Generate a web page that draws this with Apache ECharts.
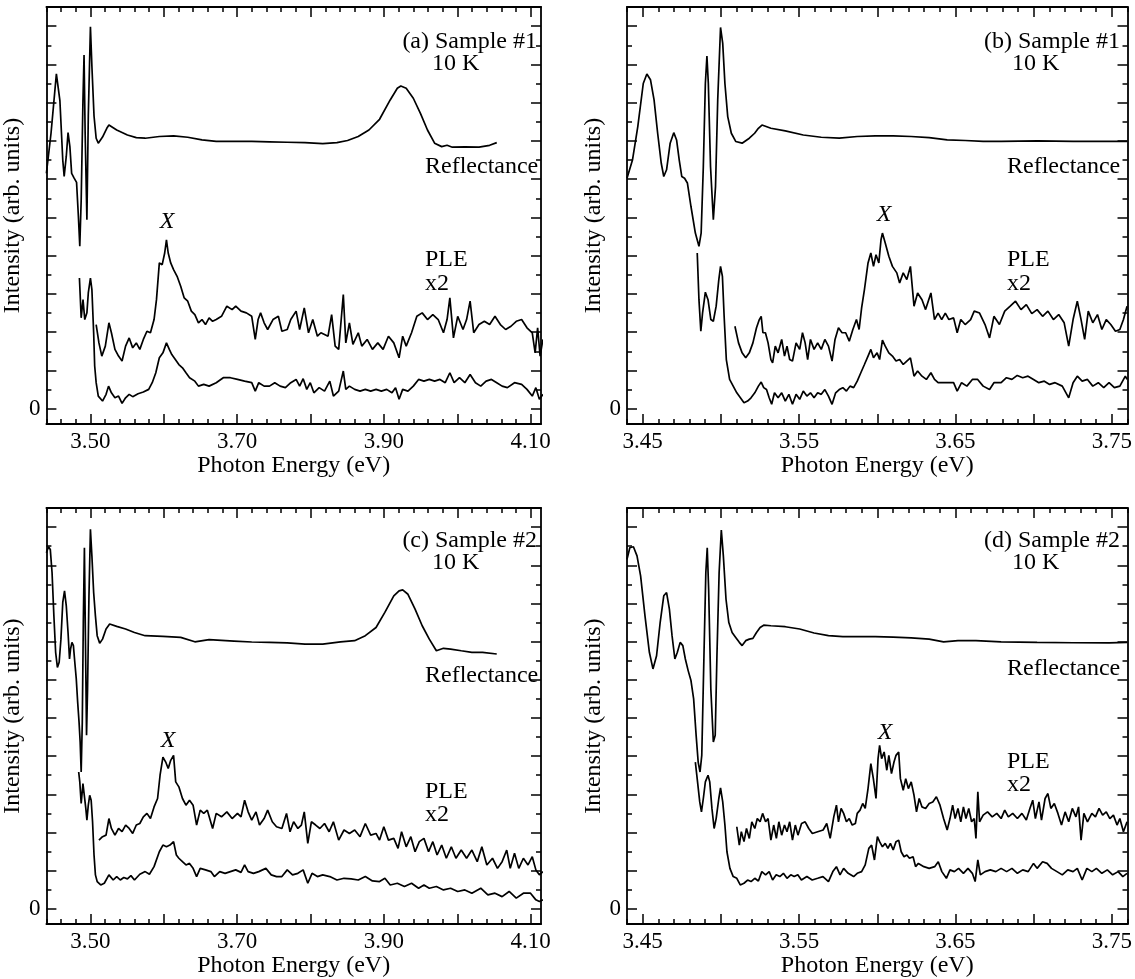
<!DOCTYPE html>
<html>
<head>
<meta charset="utf-8">
<script src="https://cdn.jsdelivr.net/npm/echarts@6/dist/echarts.min.js"></script>
<style>
  html, body { margin: 0; padding: 0; background: #fff; }
  #main { width: 1135px; height: 979px; }
</style>
</head>
<body>
<div id="main"></div>
<script>
// ---- tick values ----
var wideMajor = [3.5, 3.6, 3.7, 3.8, 3.9, 4.0, 4.1];
var wideMinor = [3.44, 3.46, 3.48, 3.52, 3.54, 3.56, 3.58, 3.62, 3.64, 3.66, 3.68, 3.72, 3.74, 3.76, 3.78,
                 3.82, 3.84, 3.86, 3.88, 3.92, 3.94, 3.96, 3.98, 4.02, 4.04, 4.06, 4.08];
var wideLabels = [3.5, 3.7, 3.9, 4.1];
var narrowMajor = [3.45, 3.5, 3.55, 3.6, 3.65, 3.7, 3.75];
var narrowMinor = [3.44, 3.46, 3.47, 3.48, 3.49, 3.51, 3.52, 3.53, 3.54, 3.56, 3.57, 3.58, 3.59, 3.61, 3.62,
                   3.63, 3.64, 3.66, 3.67, 3.68, 3.69, 3.71, 3.72, 3.73, 3.74, 3.76];
var narrowLabels = [3.45, 3.55, 3.65, 3.75];
var yMajor = [0, 2, 4, 6, 8, 10, 12, 14, 16, 18, 20];
var yMinor = [1, 3, 5, 7, 9, 11, 13, 15, 17, 19];
var yLabels = [0];

// ---- (a) sample #1, wide range ----
var aRefl = [[3.440,12.31],[3.4463,14.4],[3.4536,17.5],[3.4584,16.1],[3.4623,13.0],[3.4642,12.14],[3.4671,13.2],
  [3.4695,14.43],[3.472,13.7],[3.4744,12.3],[3.4778,12.05],[3.4811,11.83],[3.4836,10.05],[3.4855,8.49],[3.4874,10.9],
  [3.4898,16.1],[3.4913,18.49],[3.4928,14.4],[3.4952,9.88],[3.4971,15.3],[3.5,19.97],[3.502,17.9],[3.5049,15.3],
  [3.5078,14.14],[3.5107,13.88],[3.5165,14.2],[3.5223,14.66],[3.5252,14.83],[3.5358,14.57],[3.5504,14.31],[3.5625,14.17],
  [3.5746,14.14],[3.5939,14.23],[3.6133,14.26],[3.6326,14.19],[3.652,14.05],[3.6714,13.98],[3.6955,13.97],[3.7198,13.97],
  [3.744,13.95],[3.7682,13.93],[3.7924,13.91],[3.8166,13.86],[3.8359,13.91],[3.8504,14.02],[3.8649,14.23],[3.8795,14.57],
  [3.894,15.13],[3.9085,16.14],[3.9182,16.75],[3.923,16.87],[3.9303,16.75],[3.94,16.23],[3.9497,15.44],[3.9593,14.57],
  [3.969,13.88],[3.9787,13.7],[3.986,13.77],[3.9932,13.67],[4.0102,13.69],[4.0295,13.67],[4.044,13.77],[4.0537,13.91]];
var aPle1 = [[3.485,6.83],[3.4874,4.75],[3.4899,5.7],[3.4923,4.66],[3.4952,5.01],[3.4971,6.05],[3.5,6.83],[3.502,6.23],
  [3.5044,3.97],[3.5058,2.23],[3.5078,1.36],[3.5107,0.66],[3.5165,0.4],[3.5213,0.75],[3.5247,1.18],[3.5286,0.83],
  [3.5334,0.57],[3.5383,0.66],[3.5431,0.28],[3.5479,0.57],[3.5528,0.75],[3.5576,0.63],[3.5649,0.78],[3.5721,0.87],
  [3.5794,1.01],[3.5842,1.36],[3.5891,1.88],[3.5939,2.66],[3.5988,2.92],[3.6012,3.18],[3.6036,3.44],[3.6075,3.1],
  [3.6109,2.83],[3.6157,2.57],[3.6205,2.31],[3.6254,2.14],[3.6302,1.88],[3.6351,1.62],[3.6423,1.44],[3.6472,1.18],
  [3.6544,1.27],[3.6617,1.18],[3.6714,1.36],[3.681,1.62],[3.6907,1.62],[3.7004,1.53],[3.7101,1.44],[3.7198,1.36],
  [3.7246,0.92],[3.7294,1.36],[3.7367,1.18],[3.744,1.18],[3.7512,1.36],[3.7585,1.18],[3.7657,1.1],[3.773,1.36],
  [3.7803,1.53],[3.7851,1.18],[3.7899,1.57],[3.7948,1.01],[3.7996,1.36],[3.8045,0.83],[3.8117,1.1],[3.819,0.92],
  [3.8262,1.44],[3.8311,0.66],[3.8383,0.92],[3.8446,1.97],[3.848,1.01],[3.8529,1.18],[3.8601,1.01],[3.8674,0.92],
  [3.8746,1.01],[3.8819,0.92],[3.8892,1.01],[3.8964,0.92],[3.9037,1.01],[3.9109,0.83],[3.9158,1.1],[3.9206,0.49],
  [3.9255,1.01],[3.9327,0.92],[3.94,1.18],[3.9472,1.53],[3.9545,1.44],[3.9618,1.53],[3.969,1.44],[3.9763,1.53],
  [3.9835,1.36],[3.9898,1.88],[3.9956,1.36],[4.0029,1.62],[4.0102,1.36],[4.0174,1.79],[4.0247,1.36],[4.0319,1.18],
  [4.0392,1.44],[4.0465,1.53],[4.0537,1.36],[4.061,1.18],[4.0682,1.1],[4.0779,1.36],[4.0876,1.27],[4.0949,1.01],
  [4.1021,0.66],[4.107,1.1],[4.1118,0.49],[4.1166,0.75]];
var aPle2 = [[3.5078,4.4],[3.5116,3.44],[3.5155,2.75],[3.5203,3.27],[3.5252,4.49],[3.5286,3.97],[3.5334,3.1],[3.5383,2.75],
  [3.5431,2.49],[3.5479,3.27],[3.5528,3.7],[3.5576,3.18],[3.5625,3.44],[3.5673,3.1],[3.5721,3.62],[3.577,4.05],
  [3.5818,3.97],[3.5867,4.66],[3.59,5.7],[3.5939,7.62],[3.5978,7.53],[3.6012,8.14],[3.6036,8.83],[3.606,8.14],
  [3.6094,7.62],[3.6133,7.27],[3.6181,6.92],[3.623,6.4],[3.6278,5.79],[3.6326,5.62],[3.6375,5.1],[3.6423,4.92],
  [3.6472,4.49],[3.652,4.66],[3.6568,4.4],[3.6617,4.75],[3.6665,4.57],[3.6714,4.66],[3.6786,4.83],[3.6859,5.36],
  [3.6931,5.18],[3.698,5.36],[3.7052,5.1],[3.7125,5.01],[3.7198,4.83],[3.7246,3.62],[3.7285,4.66],[3.7319,5.01],
  [3.7367,4.49],[3.7415,4.14],[3.7488,4.66],[3.7561,4.83],[3.7609,4.05],[3.7682,4.14],[3.773,4.66],[3.7803,5.1],
  [3.7851,4.14],[3.7914,5.27],[3.7972,3.97],[3.803,4.66],[3.8093,3.79],[3.8141,3.97],[3.819,3.88],[3.8238,3.79],
  [3.8287,4.92],[3.8335,3.27],[3.8383,3.1],[3.8446,5.97],[3.848,3.44],[3.8529,4.49],[3.8577,3.36],[3.865,3.97],
  [3.8698,3.27],[3.8771,3.62],[3.8843,3.1],[3.8916,3.44],[3.8988,3.1],[3.9061,3.79],[3.9134,3.44],[3.9206,2.66],
  [3.9255,3.79],[3.9303,3.27],[3.9376,3.97],[3.9448,4.83],[3.9521,5.01],[3.9593,4.66],[3.9666,4.92],[3.9739,4.66],
  [3.9811,3.97],[3.986,4.66],[3.9898,5.79],[3.9947,3.7],[4.0005,4.83],[4.0077,4.14],[4.0126,4.66],[4.0174,5.62],
  [4.0223,3.97],[4.0295,4.4],[4.0368,4.57],[4.044,4.4],[4.0513,4.83],[4.0586,4.4],[4.0658,4.14],[4.0731,4.31],
  [4.0803,4.57],[4.0876,4.66],[4.0949,4.23],[4.1021,3.97],[4.106,2.92],[4.1094,4.23],[4.1128,2.75],[4.1166,3.62]];

// ---- (b) sample #1, narrow range ----
var bRefl = [[3.44,12.05],[3.4435,13.0],[3.4469,14.75],[3.4504,17.0],[3.4527,17.5],[3.455,17.2],[3.4573,16.14],
  [3.4596,14.4],[3.4619,12.83],[3.4635,12.14],[3.4653,12.49],[3.4676,13.88],[3.4699,14.43],[3.4717,14.05],[3.4734,13.0],
  [3.475,12.14],[3.4768,12.05],[3.4786,11.8],[3.4809,10.57],[3.4837,9.18],[3.486,8.49],[3.4874,9.18],[3.4888,12.66],
  [3.4901,17.0],[3.4911,18.43],[3.492,17.0],[3.4934,12.66],[3.4952,9.88],[3.4966,11.62],[3.498,16.14],[3.4998,19.93],
  [3.5012,19.1],[3.5026,17.0],[3.5044,15.27],[3.5067,14.4],[3.5095,13.97],[3.5136,13.88],[3.5182,14.14],[3.5216,14.4],
  [3.524,14.66],[3.5263,14.83],[3.532,14.66],[3.5412,14.52],[3.5527,14.31],[3.5642,14.19],[3.5757,14.14],[3.5872,14.23],
  [3.5987,14.26],[3.6102,14.26],[3.6217,14.23],[3.6332,14.17],[3.6447,14.05],[3.6562,14.02],[3.6677,13.98],[3.6792,13.98],
  [3.7022,14.0],[3.7252,13.98],[3.7482,13.97],[3.7597,13.98]];
var bPle1 = [[3.4849,8.14],[3.486,5.7],[3.4872,4.05],[3.4883,5.0],[3.4901,6.09],[3.4918,5.7],[3.4936,4.66],[3.4952,4.57],
  [3.497,5.36],[3.4987,6.75],[3.4998,7.44],[3.501,6.92],[3.5021,4.83],[3.5035,2.57],[3.5056,1.53],[3.5079,1.18],
  [3.5102,0.83],[3.5125,0.57],[3.5148,0.31],[3.5171,0.4],[3.5193,0.57],[3.5217,0.83],[3.524,1.18],[3.5258,1.39],
  [3.5274,1.1],[3.5292,1.0],[3.5309,0.57],[3.5325,0.23],[3.5343,0.83],[3.5366,0.57],[3.5389,0.83],[3.5412,0.4],
  [3.5435,0.75],[3.5458,0.23],[3.5481,0.75],[3.5504,0.49],[3.5527,0.92],[3.555,0.66],[3.5573,0.83],[3.5596,0.57],
  [3.5619,0.83],[3.5642,0.75],[3.5665,1.0],[3.5688,0.66],[3.5711,0.23],[3.5734,0.83],[3.5757,1.0],[3.578,1.1],
  [3.5803,0.92],[3.5826,1.18],[3.5849,1.1],[3.5872,1.44],[3.5895,1.88],[3.5918,2.31],[3.5941,2.75],[3.5959,3.1],
  [3.5976,2.66],[3.5999,2.92],[3.6015,2.57],[3.6033,3.58],[3.6051,3.27],[3.6074,2.92],[3.6097,2.75],[3.612,2.49],
  [3.6143,2.57],[3.6166,2.31],[3.6189,2.49],[3.6212,2.66],[3.6235,1.7],[3.6258,1.97],[3.6286,1.7],[3.6314,1.53],
  [3.6343,1.88],[3.6366,1.53],[3.6389,1.36],[3.6424,1.36],[3.6458,1.36],[3.6488,1.36],[3.6511,0.92],[3.6539,1.36],
  [3.6573,1.18],[3.6608,1.53],[3.6642,1.53],[3.6677,1.18],[3.6718,1.0],[3.6746,1.36],[3.6792,1.36],[3.6826,1.62],
  [3.6861,1.53],[3.6895,1.74],[3.693,1.62],[3.6964,1.7],[3.6999,1.53],[3.7033,1.36],[3.7068,1.44],[3.7102,1.27],
  [3.7137,1.36],[3.7183,1.18],[3.7224,0.57],[3.7252,1.36],[3.7279,1.7],[3.731,1.44],[3.7344,1.53],[3.7378,1.18],
  [3.7413,1.36],[3.7448,1.1],[3.7482,1.36],[3.7516,1.1],[3.7551,1.18],[3.7586,1.7],[3.7597,1.53]];
var bPle2 = [[3.509,4.31],[3.5113,3.44],[3.5136,2.92],[3.5159,2.66],[3.5182,2.92],[3.5205,3.44],[3.5228,4.23],[3.5246,4.66],
  [3.5258,4.83],[3.5269,3.97],[3.5285,3.97],[3.5302,3.44],[3.532,2.57],[3.5331,2.4],[3.5348,3.27],[3.5366,2.92],
  [3.5389,3.62],[3.5407,2.75],[3.5423,3.27],[3.544,2.57],[3.5458,2.49],[3.5481,3.44],[3.5504,3.1],[3.5522,3.97],
  [3.5539,3.44],[3.5555,2.57],[3.5573,3.62],[3.5596,3.1],[3.5619,3.44],[3.5642,3.1],[3.5665,3.62],[3.5688,3.27],
  [3.5711,2.49],[3.573,3.62],[3.5752,4.23],[3.5775,3.97],[3.5798,3.97],[3.5821,3.53],[3.5844,4.14],[3.5867,4.66],
  [3.5884,4.14],[3.59,5.27],[3.5918,6.23],[3.5941,7.62],[3.5959,8.14],[3.5976,7.44],[3.5992,8.05],[3.601,7.62],
  [3.6024,8.83],[3.6033,9.18],[3.6051,8.66],[3.6074,7.97],[3.6097,7.44],[3.6125,7.1],[3.6143,6.57],[3.6166,7.1],
  [3.6189,6.75],[3.6212,7.44],[3.6235,5.36],[3.6258,6.05],[3.6286,5.7],[3.6309,5.18],[3.6343,6.05],[3.6366,4.66],
  [3.6389,5.0],[3.6412,4.66],[3.6435,5.0],[3.6458,4.66],[3.6488,4.75],[3.6511,3.97],[3.6534,4.66],[3.6562,4.4],
  [3.6597,4.66],[3.662,5.1],[3.6654,5.0],[3.6689,4.4],[3.6718,3.7],[3.6746,4.83],[3.6781,4.4],[3.6815,5.1],
  [3.685,5.36],[3.6884,5.62],[3.6919,5.18],[3.6953,5.44],[3.6988,4.97],[3.7022,5.18],[3.7057,4.83],[3.7091,5.1],
  [3.7126,4.66],[3.716,4.92],[3.7195,4.49],[3.7224,3.27],[3.7252,4.66],[3.7279,5.62],[3.7303,4.66],[3.7326,3.62],
  [3.7349,5.1],[3.7378,4.49],[3.7408,4.92],[3.7436,4.14],[3.7464,4.66],[3.7493,4.4],[3.7523,4.05],[3.7551,4.14],
  [3.7574,4.66],[3.7597,5.36]];

// ---- (c) sample #2, wide range ----
var cRefl = [[3.44,18.66],[3.4429,18.97],[3.4453,18.83],[3.4477,17.62],[3.4502,15.35],[3.4526,13.44],[3.455,12.65],
  [3.4574,12.92],[3.4598,14.13],[3.4623,16.05],[3.4647,16.66],[3.4671,15.87],[3.4695,14.48],[3.4715,13.09],[3.4729,13.61],
  [3.4748,13.96],[3.4768,13.79],[3.4787,12.92],[3.4807,12.05],[3.4826,10.83],[3.4845,9.78],[3.486,8.74],[3.4874,7.17],
  [3.4889,9.78],[3.4903,15.0],[3.4918,18.92],[3.4932,14.13],[3.4947,9.09],[3.4961,11.52],[3.498,16.4],[3.5,19.88],
  [3.502,18.49],[3.5044,16.57],[3.5068,15.35],[3.5092,14.31],[3.5126,13.92],[3.5165,14.13],[3.5213,14.66],[3.5262,14.92],
  [3.5358,14.8],[3.5479,14.66],[3.56,14.48],[3.5745,14.31],[3.5987,14.27],[3.623,14.22],[3.6423,13.99],[3.6617,14.1],
  [3.6956,14.03],[3.7198,13.98],[3.744,13.96],[3.7681,13.93],[3.7924,13.87],[3.8166,13.87],[3.8408,13.99],[3.86,14.05],
  [3.8746,14.31],[3.8892,14.74],[3.9012,15.53],[3.9134,16.4],[3.9206,16.66],[3.9255,16.71],[3.9327,16.48],[3.9424,15.7],
  [3.9521,14.83],[3.9618,14.13],[3.9714,13.52],[3.9811,13.65],[3.9908,13.61],[4.0053,13.52],[4.0198,13.44],[4.0344,13.44],
  [4.0537,13.35]];
var cPle1 = [[3.484,7.17],[3.4855,6.65],[3.4874,5.52],[3.4898,6.56],[3.4923,6.49],[3.4937,5.26],[3.4952,4.65],[3.4971,5.43],
  [3.499,5.95],[3.501,5.69],[3.5029,4.56],[3.5049,2.82],[3.5068,1.78],[3.5092,1.43],[3.514,1.25],[3.5189,1.34],
  [3.5252,1.78],[3.531,1.51],[3.5358,1.69],[3.5407,1.51],[3.5455,1.64],[3.5504,1.57],[3.5552,1.74],[3.56,1.51],
  [3.5673,1.81],[3.5746,1.95],[3.5804,1.81],[3.5867,2.21],[3.5939,2.99],[3.5988,3.34],[3.6036,3.25],[3.6084,3.34],
  [3.6133,3.52],[3.6171,2.82],[3.6205,2.65],[3.6254,2.47],[3.6302,2.3],[3.635,2.38],[3.6399,2.12],[3.6447,1.69],
  [3.6496,2.12],[3.6568,2.04],[3.6641,1.95],[3.6689,1.69],[3.6762,1.95],[3.6835,1.86],[3.6907,1.95],[3.698,2.04],
  [3.7052,1.91],[3.7101,2.3],[3.7149,1.95],[3.7222,1.86],[3.7294,1.95],[3.7391,2.12],[3.7464,1.78],[3.7536,1.69],
  [3.7609,1.69],[3.7682,2.04],[3.7754,1.78],[3.7827,1.86],[3.7899,2.04],[3.7962,1.34],[3.802,1.86],[3.8093,1.69],
  [3.8166,1.78],[3.8262,1.69],[3.8359,1.51],[3.8456,1.6],[3.8553,1.57],[3.865,1.51],[3.8746,1.69],[3.8843,1.46],
  [3.894,1.43],[3.9013,1.6],[3.9085,1.25],[3.9182,1.34],[3.9279,1.17],[3.9376,1.34],[3.9472,1.08],[3.9545,1.25],
  [3.9618,1.08],[3.9714,1.17],[3.9811,0.99],[3.9908,1.08],[4.0005,0.91],[4.0102,0.99],[4.0198,0.82],[4.0319,1.08],
  [4.0416,0.73],[4.0513,0.82],[4.061,0.64],[4.0706,0.91],[4.0803,0.56],[4.09,0.82],[4.0997,0.82],[4.107,0.47],
  [4.1118,0.38],[4.1166,0.47]];
var cPle2 = [[3.5116,3.6],[3.5165,3.78],[3.5213,3.86],[3.5252,4.73],[3.5286,4.21],[3.5334,3.86],[3.5383,4.21],[3.5431,4.04],
  [3.548,4.39],[3.5528,4.21],[3.5576,3.95],[3.5625,4.39],[3.5673,4.47],[3.5721,4.82],[3.577,5.0],[3.5818,4.73],
  [3.5867,5.34],[3.5915,5.78],[3.5949,7.0],[3.5988,7.95],[3.6026,7.69],[3.606,7.35],[3.6094,7.78],[3.6133,8.04],
  [3.6162,6.65],[3.6205,6.39],[3.6254,5.78],[3.6302,5.43],[3.635,5.69],[3.6399,5.43],[3.6447,4.39],[3.6496,5.17],
  [3.6544,5.0],[3.6593,5.17],[3.6665,4.21],[3.6714,5.0],[3.6786,4.82],[3.6859,5.08],[3.6931,4.73],[3.7004,5.0],
  [3.7052,4.82],[3.7101,5.69],[3.7149,5.08],[3.7198,4.65],[3.7256,5.08],[3.7304,4.39],[3.7367,4.73],[3.7415,5.17],
  [3.7478,4.56],[3.7536,4.3],[3.7609,4.21],[3.7672,5.0],[3.772,4.04],[3.7769,4.56],[3.7827,4.21],[3.7875,4.39],
  [3.7914,5.08],[3.7962,3.43],[3.8011,4.56],[3.8069,4.39],[3.8127,4.21],[3.819,4.47],[3.8253,4.04],[3.8311,4.56],
  [3.8383,3.6],[3.8456,4.13],[3.8529,3.95],[3.8601,4.13],[3.8674,3.78],[3.8746,4.47],[3.8819,3.86],[3.8892,3.95],
  [3.894,3.6],[3.8998,4.3],[3.9061,3.6],[3.9134,3.69],[3.9192,3.17],[3.924,4.04],[3.9303,3.25],[3.9366,3.78],
  [3.9424,2.99],[3.9482,3.52],[3.9545,3.69],[3.9608,2.99],[3.9666,3.52],[3.9724,2.82],[3.9787,3.34],[3.985,2.65],
  [3.9918,3.25],[3.9981,2.65],[4.0053,3.08],[4.0126,2.65],[4.0198,3.08],[4.0271,2.47],[4.0334,3.25],[4.0402,2.3],
  [4.0479,2.65],[4.0547,2.12],[4.061,2.47],[4.0673,3.08],[4.0721,2.12],[4.0779,2.91],[4.0837,2.12],[4.09,2.65],
  [4.0963,2.3],[4.1021,2.73],[4.107,2.04],[4.1118,1.78],[4.1166,1.95]];

// ---- (d) sample #2, narrow range ----
var dRefl = [[3.44,18.31],[3.4418,18.92],[3.4441,18.97],[3.4464,18.49],[3.4487,17.44],[3.4515,15.35],[3.4543,13.44],
  [3.4566,12.57],[3.4589,13.26],[3.4612,15.0],[3.4635,16.4],[3.4653,16.57],[3.4671,15.7],[3.4688,14.31],[3.4706,13.09],
  [3.4722,13.44],[3.474,13.96],[3.4757,13.79],[3.4773,13.09],[3.4791,12.48],[3.4809,11.96],[3.4826,11.0],[3.4842,9.09],
  [3.4855,7.69],[3.4867,7.17],[3.4878,8.04],[3.4892,13.26],[3.4904,17.62],[3.4913,18.92],[3.4922,16.74],[3.4936,11.52],
  [3.4952,8.74],[3.4964,9.09],[3.4975,13.26],[3.4989,17.62],[3.5003,19.84],[3.5016,18.49],[3.5033,16.22],[3.5051,15.0],
  [3.5072,14.48],[3.5095,14.22],[3.5118,13.96],[3.5136,13.79],[3.5159,14.05],[3.5182,14.13],[3.5205,14.17],[3.5228,14.48],
  [3.5251,14.74],[3.5274,14.86],[3.532,14.83],[3.5412,14.78],[3.5504,14.66],[3.5596,14.45],[3.5688,14.31],[3.578,14.26],
  [3.5872,14.26],[3.5987,14.26],[3.6102,14.24],[3.6217,14.2],[3.6332,14.13],[3.6424,13.99],[3.6516,14.05],[3.6631,14.05],
  [3.6792,13.99],[3.7022,13.96],[3.7252,13.94],[3.7482,13.93],[3.7597,13.96]];
var dPle1 = [[3.4837,7.69],[3.4851,6.65],[3.4865,5.6],[3.4876,5.08],[3.4888,5.78],[3.4901,6.65],[3.4918,7.0],[3.4929,6.65],
  [3.4943,5.26],[3.4957,4.21],[3.497,4.73],[3.4987,5.78],[3.4998,6.34],[3.5012,5.6],[3.5026,4.39],[3.5039,2.99],
  [3.5058,2.12],[3.5079,1.69],[3.5102,1.6],[3.5124,1.25],[3.5148,1.34],[3.5171,1.51],[3.5193,1.43],[3.5217,1.6],
  [3.524,1.46],[3.5262,1.95],[3.5286,1.78],[3.5309,1.95],[3.5331,1.51],[3.5354,1.78],[3.5377,1.69],[3.54,1.86],
  [3.5423,1.6],[3.5447,1.78],[3.5469,1.69],[3.5492,1.78],[3.5515,1.51],[3.555,1.69],[3.5584,1.51],[3.5619,1.6],
  [3.5653,1.69],[3.5688,1.43],[3.5716,1.95],[3.5739,2.21],[3.5762,1.78],[3.5785,2.12],[3.5814,1.86],[3.5849,1.69],
  [3.5872,1.86],[3.59,1.95],[3.5923,2.3],[3.5946,3.17],[3.5964,3.34],[3.5982,2.56],[3.6001,3.78],[3.6015,3.52],
  [3.6033,3.25],[3.6051,3.43],[3.6068,3.17],[3.6084,3.43],[3.6102,3.08],[3.612,3.52],[3.6137,3.6],[3.6153,2.99],
  [3.6171,2.73],[3.6189,2.82],[3.6206,2.65],[3.6229,2.73],[3.6245,2.21],[3.6263,2.38],[3.6298,2.21],[3.6332,2.12],
  [3.6367,2.21],[3.639,2.47],[3.6413,1.95],[3.6442,1.6],[3.6465,2.04],[3.6493,1.95],[3.652,2.12],[3.6551,1.86],
  [3.658,2.12],[3.6608,1.86],[3.6626,1.43],[3.6643,2.56],[3.6659,1.78],[3.6689,1.95],[3.6723,2.04],[3.6758,1.95],
  [3.6792,2.12],[3.6827,1.95],[3.6861,2.12],[3.6896,1.86],[3.693,2.04],[3.6965,1.95],[3.6999,2.38],[3.7022,2.12],
  [3.7057,2.47],[3.7086,2.38],[3.7114,2.12],[3.7149,1.95],[3.7183,1.78],[3.7218,2.04],[3.7252,1.95],[3.7279,2.12],
  [3.731,1.51],[3.734,2.12],[3.7372,1.95],[3.7401,2.12],[3.7436,1.86],[3.7471,2.04],[3.7505,1.78],[3.754,1.95],
  [3.757,1.69],[3.7597,1.86]];
var dPle2 = [[3.5102,4.3],[3.5118,3.34],[3.5131,4.04],[3.5148,3.52],[3.5164,4.21],[3.5182,3.69],[3.5198,4.56],[3.5217,4.21],
  [3.5233,4.73],[3.5251,4.56],[3.5267,5.0],[3.5286,4.56],[3.5302,4.73],[3.532,3.6],[3.5338,4.39],[3.5355,3.69],
  [3.5371,4.56],[3.5389,3.86],[3.5407,4.39],[3.5423,4.04],[3.544,4.56],[3.5458,3.6],[3.5476,4.39],[3.5493,3.86],
  [3.5516,4.47],[3.5539,4.56],[3.5562,4.21],[3.5585,3.95],[3.5619,4.04],[3.5654,4.13],[3.5677,4.47],[3.5699,3.69],
  [3.5722,4.82],[3.5739,5.43],[3.5752,4.56],[3.5769,5.26],[3.5785,5.0],[3.5803,4.56],[3.5821,4.73],[3.584,4.39],
  [3.586,4.47],[3.5872,5.0],[3.589,5.17],[3.5907,5.52],[3.5923,5.26],[3.5941,6.3],[3.5959,7.61],[3.5975,6.82],
  [3.5992,5.78],[3.6005,7.87],[3.6015,8.56],[3.6028,7.87],[3.6044,8.22],[3.6061,7.26],[3.6074,8.04],[3.6091,7.08],
  [3.6107,7.69],[3.612,8.04],[3.6137,8.22],[3.6148,6.82],[3.6166,6.21],[3.6182,6.82],[3.6199,6.3],[3.6217,6.65],
  [3.6235,5.95],[3.6251,5.08],[3.6268,5.78],[3.6286,5.34],[3.6309,5.26],[3.6332,5.52],[3.6355,5.6],[3.6378,5.87],
  [3.6401,5.43],[3.6424,4.73],[3.6447,4.13],[3.6465,4.73],[3.6482,5.43],[3.6498,4.73],[3.6516,5.26],[3.6534,4.56],
  [3.6551,5.34],[3.6567,4.73],[3.6585,5.26],[3.6603,4.56],[3.662,4.73],[3.6631,3.69],[3.6643,6.13],[3.6654,4.56],
  [3.6677,4.91],[3.6705,5.08],[3.6735,4.82],[3.6764,5.0],[3.6792,4.73],[3.6815,5.17],[3.6838,4.82],[3.6866,5.0],
  [3.6896,4.73],[3.6925,5.0],[3.6953,4.65],[3.6976,5.26],[3.6994,5.69],[3.7011,4.73],[3.7034,5.6],[3.705,4.65],
  [3.7073,5.78],[3.7091,6.04],[3.711,5.26],[3.7132,5.52],[3.7155,5.0],[3.7178,4.39],[3.7201,5.08],[3.7224,4.56],
  [3.7247,5.26],[3.727,4.82],[3.7287,5.34],[3.7303,3.6],[3.7321,5.0],[3.7344,4.56],[3.7372,5.0],[3.7395,4.82],
  [3.7418,5.26],[3.7441,4.91],[3.7464,5.08],[3.7487,4.73],[3.751,4.91],[3.7533,4.39],[3.7551,4.73],[3.7574,4.04],
  [3.7597,4.56]];

// ---- layout ----
var FONT = '"Liberation Serif", "DejaVu Serif", serif';
var BLACK = '#000';
var panels = [
  {left: 44,  top: 7,   width: 497, height: 417, xmin: 3.44, xmax: 4.114, major: wideMajor,   minor: wideMinor,   labels: wideLabels,   curves: [aRefl, aPle1, aPle2]},
  {left: 627, top: 7,   width: 501, height: 417, xmin: 3.44, xmax: 3.76,  major: narrowMajor, minor: narrowMinor, labels: narrowLabels, curves: [bRefl, bPle1, bPle2]},
  {left: 44,  top: 508, width: 497, height: 417, xmin: 3.44, xmax: 4.114, major: wideMajor,   minor: wideMinor,   labels: wideLabels,   curves: [cRefl, cPle1, cPle2]},
  {left: 627, top: 508, width: 501, height: 417, xmin: 3.44, xmax: 3.76,  major: narrowMajor, minor: narrowMinor, labels: narrowLabels, curves: [dRefl, dPle1, dPle2]}
];

var grids = [], xAxes = [], yAxes = [], series = [];

function axis(gi, pos, min, max, ticks, len, withLine) {
  return {
    gridIndex: gi, type: 'value', position: pos, min: min, max: max,
    axisLine: {show: withLine, onZero: false, lineStyle: {color: BLACK, width: 1.8}},
    axisTick: {show: true, inside: true, length: len, customValues: ticks, lineStyle: {color: BLACK, width: 1.5}},
    axisLabel: {show: false},
    splitLine: {show: false}
  };
}

panels.forEach(function (p, gi) {
  grids.push({left: p.left, top: p.top, width: p.width, height: p.height, containLabel: false});

  var xb = axis(gi, 'bottom', p.xmin, p.xmax, p.major, 10, true);
  xb.axisLabel = {show: true, customValues: p.labels, color: BLACK, fontFamily: FONT, fontSize: 23, margin: 6,
                  formatter: function (v) { return v.toFixed(2); }};
  xb.name = 'Photon Energy (eV)';
  xb.nameLocation = 'middle';
  xb.nameGap = 28;
  xb.nameTextStyle = {color: BLACK, fontFamily: FONT, fontSize: 24};
  xAxes.push(xb);
  xAxes.push(axis(gi, 'bottom', p.xmin, p.xmax, p.minor, 5, false));
  xAxes.push(axis(gi, 'top', p.xmin, p.xmax, p.major, 10, true));
  xAxes.push(axis(gi, 'top', p.xmin, p.xmax, p.minor, 5, false));

  var yl = axis(gi, 'left', -0.8, 21, yMajor, 10, true);
  yl.axisLabel = {show: true, customValues: yLabels, color: BLACK, fontFamily: FONT, fontSize: 23, margin: 6,
                  formatter: function (v) { return String(v); }};
  yl.name = 'Intensity (arb. units)';
  yl.nameLocation = 'middle';
  yl.nameGap = 12;
  yl.nameTextStyle = {color: BLACK, fontFamily: FONT, fontSize: 24};
  yAxes.push(yl);
  yAxes.push(axis(gi, 'left', -0.8, 21, yMinor, 5, false));
  yAxes.push(axis(gi, 'right', -0.8, 21, yMajor, 10, true));
  yAxes.push(axis(gi, 'right', -0.8, 21, yMinor, 5, false));

  p.curves.forEach(function (c) {
    series.push({
      type: 'line', xAxisIndex: gi * 4, yAxisIndex: gi * 4, data: c,
      showSymbol: false, symbol: 'none', smooth: false, silent: true,
      lineStyle: {color: BLACK, width: 1.7}
    });
  });
});

// ---- text annotations ----
function txt(x, y, s, align, italic) {
  return {
    type: 'text', x: x, y: y, silent: true,
    style: {
      text: s, fill: BLACK, font: (italic ? 'italic ' : '') + '24px ' + FONT,
      align: align, textAlign: align, verticalAlign: 'middle', textVerticalAlign: 'middle'
    }
  };
}
var notes = [
  txt(537, 42, '(a) Sample #1', 'right'), txt(432, 64, '10 K', 'left'),
  txt(425, 167, 'Reflectance', 'left'), txt(167, 222, 'X', 'center', true),
  txt(425, 260, 'PLE', 'left'), txt(425, 284, 'x2', 'left'),

  txt(1120, 42, '(b) Sample #1', 'right'), txt(1012, 64, '10 K', 'left'),
  txt(1007, 167, 'Reflectance', 'left'), txt(884, 215, 'X', 'center', true),
  txt(1007, 260, 'PLE', 'left'), txt(1007, 284, 'x2', 'left'),

  txt(537, 541, '(c) Sample #2', 'right'), txt(432, 563, '10 K', 'left'),
  txt(425, 676, 'Reflectance', 'left'), txt(168, 741, 'X', 'center', true),
  txt(425, 792, 'PLE', 'left'), txt(425, 815, 'x2', 'left'),

  txt(1120, 541, '(d) Sample #2', 'right'), txt(1012, 563, '10 K', 'left'),
  txt(1007, 669, 'Reflectance', 'left'), txt(885, 733, 'X', 'center', true),
  txt(1007, 762, 'PLE', 'left'), txt(1007, 785, 'x2', 'left')
];

var chart = echarts.init(document.getElementById('main'));
chart.setOption({
  backgroundColor: '#fff',
  animation: false,
  grid: grids,
  xAxis: xAxes,
  yAxis: yAxes,
  series: series,
  graphic: notes
});
</script>
</body>
</html>
